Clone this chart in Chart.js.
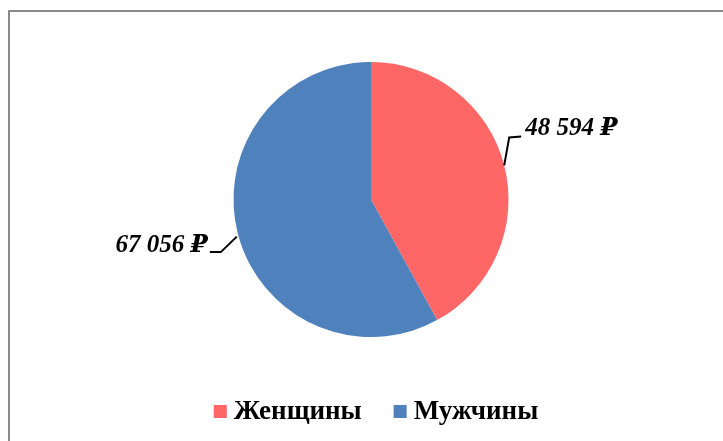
<!DOCTYPE html>
<html>
<head>
<meta charset="utf-8">
<script src="https://cdn.jsdelivr.net/npm/chart.js@4/dist/chart.umd.min.js"></script>
<style>
  html, body { margin: 0; padding: 0; background: #fff; overflow: hidden; }
  canvas { display: block; }
</style>
</head>
<body>
<canvas id="c" width="723" height="441"></canvas>
<script>
const categories = ['Женщины', 'Мужчины'];
const values = [48594, 67056];
const currency = '₽';
const colors = ['#FF6666', '#4F81BD'];

function fmt(v) {
  return String(v).replace(/\B(?=(\d{3})+(?!\d))/g, ' ') + ' ' + currency;
}

const SERIF = '"Liberation Serif", "Times New Roman", "DejaVu Serif", serif';

// leader-line styling per slice (offsets relative to slice edge midpoint)
const leaderStyle = [
  { pts: [[0, 0], [5, -28], [17, -29]], text: [21, -30], align: 'left' },
  { pts: [[-1, 3], [-17, 18.5], [-28, 18.5]], text: [-30, 18], align: 'right' }
];

const framePlugin = {
  id: 'frame',
  beforeDraw(chart) {
    const ctx = chart.ctx;
    ctx.save();
    ctx.strokeStyle = '#8a8a8a';
    ctx.lineWidth = 2;
    ctx.beginPath();
    ctx.moveTo(9, chart.height + 5);
    ctx.lineTo(9, 11);
    ctx.lineTo(chart.width + 5, 11);
    ctx.stroke();
    ctx.restore();
  }
};

const labelPlugin = {
  id: 'pieLabels',
  afterDatasetsDraw(chart) {
    const ctx = chart.ctx;
    const meta = chart.getDatasetMeta(0);
    ctx.save();
    meta.data.forEach((arc, i) => {
      const mid = (arc.startAngle + arc.endAngle) / 2;
      const px = arc.x + arc.outerRadius * Math.cos(mid);
      const py = arc.y + arc.outerRadius * Math.sin(mid);
      const st = leaderStyle[i];
      ctx.strokeStyle = '#000';
      ctx.lineWidth = 2;
      ctx.beginPath();
      st.pts.forEach((p, k) => {
        if (k === 0) ctx.moveTo(px + p[0], py + p[1]);
        else ctx.lineTo(px + p[0], py + p[1]);
      });
      ctx.stroke();
      ctx.fillStyle = '#000';
      ctx.font = 'italic bold 25px ' + SERIF;
      ctx.textAlign = st.align;
      ctx.textBaseline = 'alphabetic';
      ctx.fillText(fmt(chart.data.datasets[0].data[i]), px + st.text[0], py + st.text[1]);
    });
    ctx.restore();
  }
};

const legendPlugin = {
  id: 'customLegend',
  afterDraw(chart) {
    const ctx = chart.ctx;
    const o = { centerX: 376, centerY: 412, box: 13, gap: 7, spacing: 32 };
    ctx.save();
    ctx.font = 'bold 27px ' + SERIF;
    const widths = chart.data.labels.map(l => ctx.measureText(l).width);
    let total = 0;
    widths.forEach((w, i) => { total += o.box + o.gap + w + (i < widths.length - 1 ? o.spacing : 0); });
    let x = o.centerX - total / 2;
    chart.data.labels.forEach((l, i) => {
      ctx.fillStyle = chart.data.datasets[0].backgroundColor[i];
      ctx.fillRect(x, o.centerY - o.box / 2 - 0.5, o.box, o.box);
      x += o.box + o.gap;
      ctx.fillStyle = '#000';
      ctx.textAlign = 'left';
      ctx.textBaseline = 'middle';
      ctx.fillText(l, x, o.centerY);
      x += widths[i] + o.spacing;
    });
    ctx.restore();
  }
};

new Chart(document.getElementById('c'), {
  type: 'pie',
  data: {
    labels: categories,
    datasets: [{
      data: values,
      backgroundColor: colors,
      borderWidth: 0
    }]
  },
  options: {
    responsive: false,
    animation: false,
    layout: { padding: { top: 62, bottom: 104, left: 100, right: 81 } },
    plugins: {
      legend: { display: false },
      tooltip: { enabled: false }
    }
  },
  plugins: [framePlugin, labelPlugin, legendPlugin]
});
</script>
</body>
</html>
